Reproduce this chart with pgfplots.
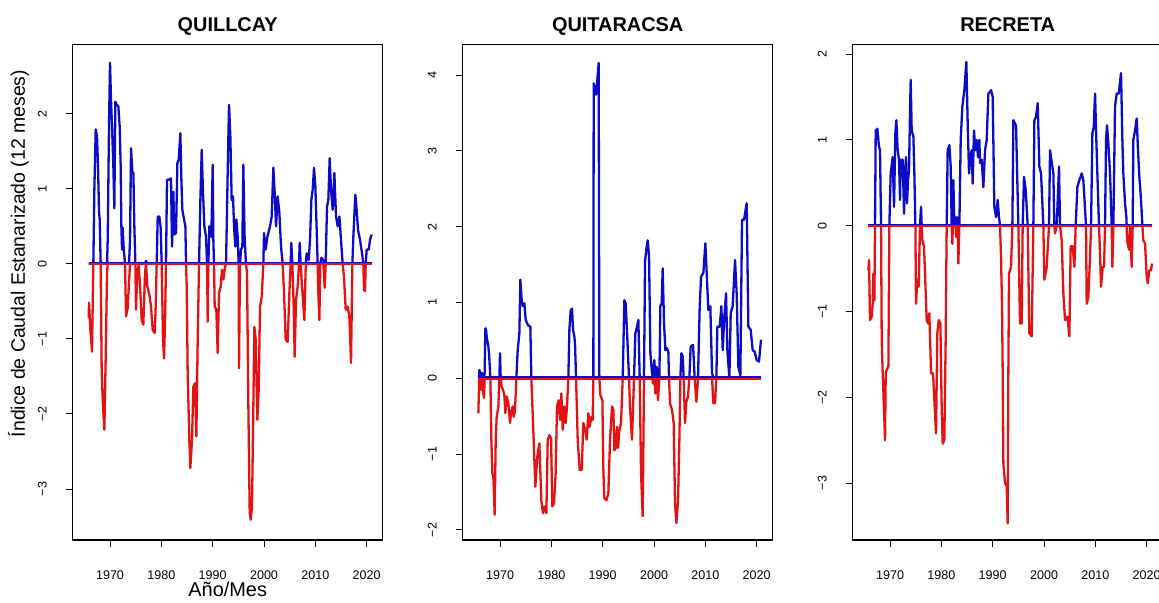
\documentclass[border=0pt]{standalone}
\usepackage{fontspec}
\setmainfont{Liberation Sans}
\usepackage{pgfplots}
\usepackage{pgfplotstable}
\pgfplotsset{compat=1.18}
\definecolor{pblue}{RGB}{12,12,200}
\definecolor{pred}{RGB}{228,18,18}

\pgfplotstableread{
t v
1965.84 -0.72
1965.91 -0.52
1966.17 -0.88
1966.49 -1.17
1966.75 0
1966.95 0.99
1967.21 1.79
1967.47 1.70
1967.66 1.30
1967.86 0.70
1967.99 0.59
1968.18 0
1968.38 -1.46
1968.64 -1.90
1968.90 -2.21
1969.16 -1.24
1969.42 -0.12
1969.55 0.32
1969.81 1.88
1970.00 2.68
1970.19 2.19
1970.39 1.83
1970.65 1.30
1970.84 0.74
1971.04 2.16
1971.30 2.12
1971.62 2.10
1971.88 1.83
1972.08 1.30
1972.21 0.50
1972.34 0.19
1972.47 0.48
1972.66 0.21
1972.92 0
1973.12 -0.70
1973.44 -0.59
1973.70 -0.24
1973.90 0.32
1974.09 1.54
1974.35 1.23
1974.55 1.21
1974.74 0.50
1974.94 0
1975.06 -0.61
1975.32 -0.12
1975.58 -0.02
1975.84 -0.28
1976.17 -0.75
1976.49 -0.81
1976.82 -0.12
1977.01 0.04
1977.27 -0.30
1977.66 -0.41
1977.99 -0.57
1978.31 -0.88
1978.70 -0.92
1978.90 -0.57
1979.09 0
1979.29 0.63
1979.61 0.63
1979.87 0.48
1980.06 0
1980.32 -1.01
1980.52 -1.26
1980.71 -0.79
1980.91 0
1981.10 1.12
1981.43 1.12
1981.88 1.14
1982.08 0.23
1982.34 0.96
1982.53 0.39
1982.86 0.41
1983.12 1.34
1983.38 1.39
1983.70 1.74
1983.90 1.12
1984.09 0.72
1984.42 0.59
1984.68 0.50
1984.81 0
1984.94 -0.30
1985.13 -1.46
1985.45 -2.35
1985.65 -2.72
1985.97 -2.35
1986.23 -1.64
1986.56 -1.59
1986.82 -2.30
1987.08 -1.01
1987.34 0
1987.60 0.85
1987.86 1.52
1988.12 0.94
1988.38 0.50
1988.70 0.36
1988.90 0
1989.03 -0.77
1989.16 0
1989.35 0.50
1989.74 0.36
1990.00 1.32
1990.13 0.32
1990.26 0
1990.39 -0.57
1990.71 -0.61
1990.97 -1.19
1991.23 -0.39
1991.56 -0.30
1991.82 -0.08
1992.08 -0.21
1992.40 -0.04
1992.60 0
1992.92 1.21
1993.18 2.12
1993.44 1.70
1993.70 0.85
1993.96 0.90
1994.16 0.50
1994.42 0.23
1994.61 0.59
1994.87 0.36
1995.06 0
1995.13 -1.39
1995.32 0
1995.52 0.19
1995.78 0.23
1995.97 1.32
1996.23 0.32
1996.49 0
1996.69 -0.12
1996.95 -1.90
1997.21 -3.32
1997.40 -3.41
1997.66 -3.24
1997.92 -1.90
1998.12 -0.84
1998.38 -1.01
1998.70 -2.08
1998.96 -1.68
1999.22 -0.57
1999.55 -0.44
1999.87 0
2000.00 0.41
2000.32 0.19
2000.65 0.36
2001.17 0.50
2001.49 0.63
2001.82 1.28
2002.08 0.94
2002.34 0.50
2002.66 0.90
2002.99 0.68
2003.31 0.23
2003.64 0
2003.90 -0.39
2004.22 -1.01
2004.61 -1.04
2004.94 -0.39
2005.19 0
2005.32 0.28
2005.52 0
2005.78 -0.57
2005.97 -1.24
2006.23 -0.48
2006.56 -0.30
2006.82 0
2006.95 0.28
2007.14 0
2007.40 -0.30
2007.86 -0.75
2008.12 -0.04
2008.31 0.14
2008.70 0.05
2008.96 0.32
2009.22 0.85
2009.48 0.99
2009.74 1.28
2010.00 1.03
2010.26 0.45
2010.45 0
2010.58 -0.39
2010.78 -0.75
2010.97 0
2011.17 0.08
2011.56 0.05
2011.82 -0.32
2012.01 0
2012.27 0.76
2012.53 0.85
2012.79 1.41
2013.05 0.99
2013.38 0.72
2013.70 1.21
2014.03 0.63
2014.35 0.50
2014.68 0.63
2015.00 0.32
2015.32 0
2015.58 -0.17
2015.91 -0.61
2016.30 -0.57
2016.62 -0.70
2016.95 -1.32
2017.21 0
2017.40 0.36
2017.79 0.92
2018.05 0.72
2018.31 0.45
2018.70 0.32
2019.09 0.14
2019.35 0
2019.48 -0.35
2019.68 -0.36
2019.81 0
2020.00 0.19
2020.39 0.19
2020.65 0.32
2020.97 0.39
}\dataQ

\pgfplotstableread{
t v
1965.78 -0.46
1965.91 -0.11
1965.97 0.11
1966.17 0.07
1966.30 -0.15
1966.49 0.07
1966.75 -0.20
1966.88 -0.26
1967.01 0.07
1967.14 0.66
1967.27 0.64
1967.47 0.51
1967.66 0.46
1967.86 0.33
1968.12 0
1968.31 -0.81
1968.51 -1.25
1968.70 -1.30
1968.96 -1.80
1969.16 -0.81
1969.35 -0.51
1969.68 -0.37
1969.87 0
1970.00 0.33
1970.13 0
1970.32 -0.11
1970.58 -0.15
1970.84 -0.22
1971.04 -0.46
1971.30 -0.24
1971.62 -0.33
1971.95 -0.59
1972.14 -0.46
1972.47 -0.37
1972.66 -0.51
1972.92 -0.42
1973.18 0
1973.44 0.37
1973.77 0.59
1973.96 1.30
1974.22 1.03
1974.48 0.95
1974.74 0.99
1975.00 0.77
1975.45 0.70
1975.91 0.68
1976.10 0
1976.43 -0.59
1976.88 -1.43
1977.27 -1.03
1977.66 -0.86
1978.05 -1.61
1978.38 -1.78
1978.70 -1.69
1979.03 -1.78
1979.29 -0.81
1979.61 -0.75
1979.94 -0.79
1980.19 -1.69
1980.52 -1.65
1980.84 -1.25
1981.10 -0.37
1981.43 -0.29
1981.69 -0.55
1981.95 -0.20
1982.21 -0.68
1982.53 -0.37
1982.79 -0.59
1983.05 -0.37
1983.31 0
1983.51 0.64
1983.77 0.90
1984.03 0.92
1984.22 0.64
1984.48 0.55
1984.61 0.46
1984.81 0
1985.13 -0.81
1985.52 -1.21
1985.91 -1.21
1986.23 -0.59
1986.62 -0.68
1986.88 -0.81
1987.21 -0.46
1987.47 -0.64
1987.79 -0.51
1988.05 -0.55
1988.18 0
1988.25 3.89
1988.51 3.80
1988.70 3.74
1988.90 3.89
1989.22 4.16
1989.35 0
1989.55 -0.22
1989.94 -0.29
1990.13 -1.21
1990.32 -1.58
1990.71 -1.61
1991.10 -1.52
1991.43 -0.81
1991.82 -0.37
1992.08 -0.42
1992.27 -0.95
1992.53 -0.92
1992.79 -0.64
1992.99 -0.92
1993.25 -0.68
1993.57 -0.59
1993.90 0
1994.22 1.03
1994.48 0.99
1994.81 0.51
1995.13 0
1995.32 -0.37
1995.71 -0.81
1996.10 0
1996.36 0.59
1996.69 0.68
1996.95 0.77
1997.21 0
1997.47 -1.25
1997.79 -1.82
1998.05 0
1998.25 1.54
1998.57 1.74
1998.77 1.82
1999.03 1.61
1999.29 0.33
1999.61 0.07
1999.81 -0.07
2000.06 0.24
2000.26 -0.20
2000.52 0.15
2000.78 -0.29
2001.04 0
2001.23 0.95
2001.49 0.99
2001.69 1.45
2001.95 0.73
2002.21 0.37
2002.47 0.40
2002.79 0.35
2002.92 0
2003.12 -0.33
2003.51 -0.42
2003.83 -0.59
2004.09 -1.65
2004.35 -1.91
2004.68 -1.61
2004.94 -0.81
2005.13 0
2005.32 0.33
2005.58 0.29
2005.78 0
2006.04 -0.59
2006.30 -0.31
2006.62 -0.24
2006.88 0
2007.14 0.42
2007.60 0.44
2007.92 0
2008.25 -0.31
2008.57 0
2008.90 0.95
2009.16 1.34
2009.61 1.39
2010.00 1.78
2010.26 1.39
2010.58 0.90
2010.97 0.95
2011.30 0.07
2011.56 -0.33
2011.88 -0.33
2012.14 0
2012.34 0.68
2012.79 0.68
2013.12 0.95
2013.38 0.37
2013.70 0.81
2014.03 1.12
2014.29 0.37
2014.68 0
2014.94 0.86
2015.32 0.95
2015.78 1.56
2016.10 1.12
2016.43 0.15
2016.82 0.04
2017.14 2.09
2017.53 2.09
2018.05 2.31
2018.38 0.68
2018.83 0.64
2019.22 0.37
2019.61 0.35
2020.00 0.24
2020.45 0.22
2020.84 0.51
}\dataT

\pgfplotstableread{
t v
1965.78 -0.52
1965.91 -0.40
1966.10 -1.10
1966.43 -1.06
1966.62 -0.91
1966.75 -0.56
1966.95 -0.87
1967.08 0
1967.21 1.11
1967.53 1.13
1967.86 0.92
1968.05 0.88
1968.25 0
1968.38 -1.33
1968.57 -1.72
1968.70 -1.92
1969.03 -2.50
1969.16 -1.72
1969.35 -1.68
1969.68 -1.64
1969.87 0
1970.13 0.61
1970.52 0.80
1970.78 0.22
1971.04 1.08
1971.23 1.23
1971.49 0.88
1971.75 0.77
1971.95 0.30
1972.08 0.77
1972.47 0.77
1972.73 0.14
1972.92 0.61
1973.12 0.80
1973.31 0.26
1973.51 0.53
1973.70 0.65
1973.90 1.35
1974.03 1.70
1974.22 1.11
1974.55 1.04
1974.74 0.61
1974.94 0
1975.06 -0.91
1975.32 -0.63
1975.58 -0.71
1975.84 0
1976.04 0.22
1976.17 0
1976.30 -0.17
1976.62 -0.24
1976.82 -0.56
1977.14 -1.10
1977.40 -1.14
1977.66 -1.02
1977.99 -1.72
1978.38 -1.72
1978.70 -2.11
1978.96 -2.42
1979.22 -1.25
1979.48 -1.10
1979.81 -1.14
1980.06 -2.11
1980.26 -2.54
1980.58 -2.50
1980.84 -1.33
1981.04 0
1981.23 0.88
1981.56 0.94
1981.82 0.69
1982.01 0
1982.14 -0.21
1982.24 0
1982.34 0.53
1982.53 0
1982.66 0.10
1982.76 0
1982.86 -0.13
1982.95 0
1983.05 0.10
1983.18 0
1983.31 -0.44
1983.51 0
1983.77 1.00
1984.09 1.39
1984.48 1.58
1984.87 1.91
1985.13 1.19
1985.39 0.61
1985.65 0.80
1985.91 0.88
1986.10 0.49
1986.36 1.11
1986.62 0.88
1986.88 1.00
1987.14 0.80
1987.40 1.00
1987.53 0.73
1987.86 0.77
1988.18 0.45
1988.51 0.88
1988.83 1.00
1989.16 1.54
1989.68 1.58
1990.00 1.50
1990.32 0.22
1990.65 0.10
1990.97 0.30
1991.23 0.10
1991.43 0
1991.62 -0.36
1991.82 -0.94
1991.95 -1.72
1992.08 -2.77
1992.40 -3.00
1992.73 -3.04
1992.92 -3.47
1993.05 -1.72
1993.18 -0.56
1993.57 -0.48
1993.83 0
1994.03 1.23
1994.35 1.19
1994.55 1.17
1995.00 0
1995.32 -1.14
1995.65 -1.14
1995.84 0
1996.10 0.57
1996.43 0.42
1996.82 0
1997.14 -1.25
1997.60 -1.29
1997.92 0
1998.12 1.23
1998.44 1.27
1998.77 1.43
1999.09 0.69
1999.42 0.61
1999.87 0
2000.06 -0.63
2000.52 -0.48
2000.97 0
2001.17 0.88
2001.62 0.69
2001.82 0.61
2002.01 0
2002.14 -0.09
2002.47 0
2002.92 0.69
2003.12 0
2003.44 -0.17
2003.77 -0.79
2004.09 -1.10
2004.55 -1.06
2004.94 -1.29
2005.19 -0.24
2005.58 -0.24
2005.91 -0.48
2006.17 0
2006.49 0.45
2006.88 0.53
2007.34 0.61
2007.66 0.53
2008.18 0
2008.31 -0.91
2008.64 -0.83
2008.96 -0.36
2009.16 0
2009.42 1.08
2009.68 1.15
2009.94 1.54
2010.19 1.00
2010.39 0.61
2010.71 0
2010.91 -0.32
2011.10 -0.71
2011.43 -0.48
2011.69 -0.48
2011.88 0
2012.08 1.00
2012.27 1.17
2012.53 0.96
2012.86 0.61
2013.18 0
2013.31 -0.48
2013.51 0
2013.83 1.39
2014.16 1.54
2014.55 1.54
2015.00 1.78
2015.26 1.00
2015.45 0.61
2015.78 0.26
2016.04 0.10
2016.10 0
2016.17 -0.17
2016.56 -0.28
2016.75 0
2017.08 -0.48
2017.27 0
2017.40 1.00
2017.73 1.11
2018.05 1.25
2018.31 0.88
2018.57 0.57
2018.90 0.30
2019.16 0
2019.35 -0.17
2019.68 -0.21
2020.00 -0.59
2020.19 -0.67
2020.52 -0.52
2020.84 -0.52
2021.04 -0.44
}\dataR

\pgfplotsset{
  panel/.style={
    scale only axis, width=310bp, height=495.3bp,
    xmin=1962.73, xmax=2023.12,
    axis line style={line width=1.2bp, black},
    tick style={line width=0.9bp, black},
    tick align=outside, major tick length=7bp,
    tick pos=left,
    xtick={1970,1980,1990,2000,2010,2020},
    xticklabels={1970,1980,1990,2000,2010,2020},
    xticklabel style={font=\fontsize{12.6}{14}\selectfont, anchor=base, yshift=-32.9bp},
    yticklabel style={font=\fontsize{12.6}{14}\selectfont, xshift=-19bp, rotate=90, anchor=base},
    title style={font=\bfseries\fontsize{20}{24}\selectfont, at={(axis description cs:0.5,1.0144)}, anchor=base},
  },
  blueline/.style={draw=pblue, line width=2.3bp, line join=round, no markers},
  redline/.style={draw=pred, line width=2.3bp, line join=round, no markers},
}

\begin{document}
\begin{tikzpicture}
\path[use as bounding box] (0bp,0bp) rectangle (1159bp,603bp);

% QUILLCAY
\begin{axis}[panel, at={(72.7bp,63bp)}, anchor=south west,
  ymin=-3.68, ymax=2.92,
  ytick={-3,-2,-1,0,1,2}, yticklabels={−3,−2,−1,0,1,2},
  title={QUILLCAY},
  xlabel={Año/Mes},
  xlabel style={font=\fontsize{20}{24}\selectfont, at={(axis description cs:0.5,-0.1133)}, anchor=base},
  ylabel={Índice de Caudal Estanarizado (12 meses)},
  ylabel style={font=\fontsize{19.5}{23}\selectfont, at={(axis description cs:-0.1539,0.5785)}, anchor=base},
]
\addplot[blueline] table[x=t, y expr={max(\thisrow{v},0)}] {\dataQ};
\addplot[redline] table[x=t, y expr={min(\thisrow{v},0)}] {\dataQ};
\addplot[blueline, yshift=1bp] coordinates {(1965.84,0) (2020.97,0)};
\addplot[redline, yshift=-0.5bp] coordinates {(1965.84,0) (2020.97,0)};
\end{axis}

% QUITARACSA
\begin{axis}[panel, at={(462.7bp,63bp)}, anchor=south west,
  ymin=-2.133, ymax=4.40,
  ytick={-2,-1,0,1,2,3,4}, yticklabels={−2,−1,0,1,2,3,4},
  title={QUITARACSA},
]
\addplot[blueline] table[x=t, y expr={max(\thisrow{v},0)}] {\dataT};
\addplot[redline] table[x=t, y expr={min(\thisrow{v},0)}] {\dataT};
\addplot[blueline, yshift=1bp] coordinates {(1965.78,0) (2020.84,0)};
\addplot[redline, yshift=-0.5bp] coordinates {(1965.78,0) (2020.84,0)};
\end{axis}

% RECRETA
\begin{axis}[panel, at={(852.7bp,63bp)}, anchor=south west,
  ymin=-3.663, ymax=2.110,
  ytick={-3,-2,-1,0,1,2}, yticklabels={−3,−2,−1,0,1,2},
  title={RECRETA},
]
\addplot[blueline] table[x=t, y expr={max(\thisrow{v},0)}] {\dataR};
\addplot[redline] table[x=t, y expr={min(\thisrow{v},0)}] {\dataR};
\addplot[blueline, yshift=1bp] coordinates {(1965.78,0) (2021.04,0)};
\addplot[redline, yshift=-0.5bp] coordinates {(1965.78,0) (2021.04,0)};
\end{axis}
\end{tikzpicture}
\end{document}
